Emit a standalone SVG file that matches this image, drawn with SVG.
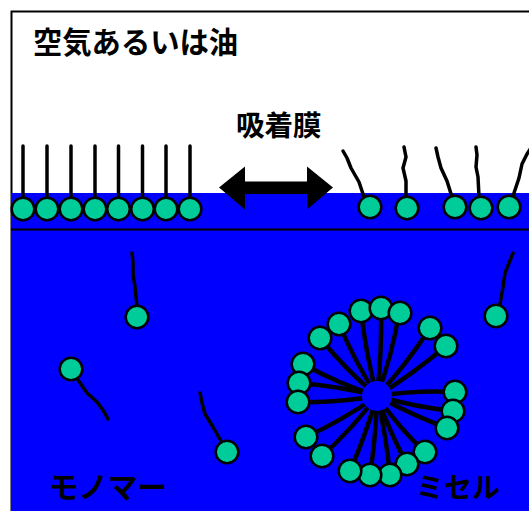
<svg xmlns="http://www.w3.org/2000/svg" width="529" height="511" viewBox="0 0 529 511">
  <style>
    .label { font-family: "Noto Sans CJK JP", "Noto Sans", sans-serif; font-weight: bold; fill: #000; }
    .tail { fill: none; stroke: #000; stroke-width: 3.5; stroke-linecap: round; stroke-linejoin: round; }
    .mtail { fill: none; stroke: #000; stroke-width: 4.5; stroke-linecap: round; stroke-linejoin: round; }
    .head { fill: #00CC99; stroke: #000; stroke-width: 2.5; }
  </style>
  <defs>
    <circle id="h" r="11.3" class="head"/>
  </defs>

  <!-- air / oil phase box -->
  <rect x="0" y="0" width="529" height="511" fill="#fff"/>
  <rect x="11.5" y="11.5" width="530" height="520" fill="#fff" stroke="#000" stroke-width="2"/>

  <!-- water phase -->
  <rect id="water" x="11" y="193" width="520" height="320" fill="#0000FF"/>
  <line x1="11" y1="229.5" x2="529" y2="229.5" stroke="#000" stroke-width="2"/>

  <text class="label" x="33" y="53" font-size="29.3">空気あるいは油</text>
  <text class="label" x="236" y="136" font-size="28.5">吸着膜</text>

  <!-- double-headed arrow -->
  <polygon points="219,187.5 245,166.5 245,181.5 307,181.5 307,166.5 333,187.5 307,209.5 307,194 245,194 245,209.5" fill="#000"/>

  <!-- packed adsorbed film (left) -->
  <g id="film-packed">
    <g class="tail">
      <line x1="23" y1="146" x2="23" y2="200"/>
      <line x1="47" y1="146" x2="47" y2="200"/>
      <line x1="71" y1="146" x2="71" y2="200"/>
      <line x1="95" y1="146" x2="95" y2="200"/>
      <line x1="118.5" y1="146" x2="118.5" y2="200"/>
      <line x1="142.5" y1="146" x2="142.5" y2="200"/>
      <line x1="166" y1="146" x2="166" y2="200"/>
      <line x1="190" y1="146" x2="190" y2="200"/>
    </g>
    <use href="#h" x="23" y="209"/>
    <use href="#h" x="47" y="209"/>
    <use href="#h" x="71" y="209"/>
    <use href="#h" x="95" y="209"/>
    <use href="#h" x="118.5" y="209"/>
    <use href="#h" x="142.5" y="209"/>
    <use href="#h" x="166" y="209"/>
    <use href="#h" x="190" y="209"/>
  </g>

  <!-- loose adsorbed film (right) -->
  <g id="film-loose">
    <g class="tail">
      <polyline points="364,197 359,182 351,168 347,158 343,151"/>
      <polyline points="406,197 406,181 403,168 406,157 404,147"/>
      <polyline points="452,197 447,181 441,168 438,157 436,148"/>
      <polyline points="479,197 478,177 476,167 477,155 476,147"/>
      <polyline points="513,196 519,178 522,164 527,154 531,148"/>
    </g>
    <use href="#h" x="370" y="207"/>
    <use href="#h" x="407" y="208"/>
    <use href="#h" x="455" y="207"/>
    <use href="#h" x="481" y="208"/>
    <use href="#h" x="509" y="207"/>
  </g>

  <!-- free monomers -->
  <g id="monomer-1">
    <polyline class="tail" points="137,306 135,287 133,274 133,263 132,253"/>
    <use href="#h" x="137" y="317"/>
  </g>
  <g id="monomer-2">
    <polyline class="tail" points="78,380 87,393 97,402 103,410 108,419"/>
    <use href="#h" x="71" y="369"/>
  </g>
  <g id="monomer-3">
    <polyline class="tail" points="221,441 213,427 205,414 202,403 200,393"/>
    <use href="#h" x="227" y="452"/>
  </g>
  <g id="monomer-4">
    <polyline class="tail" points="500,304 503,287 505,273 513,253"/>
    <use href="#h" x="496" y="316"/>
  </g>

  <!-- micelle -->
  <g id="micelle">
    <g class="mtail">
      <path d="M361,311 Q366,355 377,396"/>
      <path d="M381,308 Q382,352 377,396"/>
      <path d="M399,313 Q392,356 377,396"/>
      <path d="M339,324 Q355,362 377,396"/>
      <path d="M320,338 Q346,370 377,396"/>
      <path d="M430,328 Q407,364 377,396"/>
      <path d="M446,346 Q413,374 377,396"/>
      <path d="M303,364 Q339,384 377,396"/>
      <path d="M299,383 Q338,386 377,396"/>
      <path d="M298,402 Q337,403 377,396"/>
      <path d="M455,392 Q416,390 377,396"/>
      <path d="M453,411 Q415,407 377,396"/>
      <path d="M447,428 Q414,416 377,396"/>
      <path d="M306,437 Q343,420 377,396"/>
      <path d="M322,456 Q352,429 377,396"/>
      <path d="M425,452 Q398,427 377,396"/>
      <path d="M407,464 Q389,431 377,396"/>
      <path d="M350,471 Q366,434 377,396"/>
      <path d="M370,475 Q376,436 377,396"/>
      <path d="M390,475 Q386,435 377,396"/>
    </g>
    <circle cx="377" cy="396" r="15" fill="#0000FF"/>
    <use href="#h" x="361" y="311"/>
    <use href="#h" x="381" y="308"/>
    <use href="#h" x="400" y="313"/>
    <use href="#h" x="339" y="324"/>
    <use href="#h" x="320" y="338"/>
    <use href="#h" x="430" y="328"/>
    <use href="#h" x="446" y="346"/>
    <use href="#h" x="303" y="364"/>
    <use href="#h" x="299" y="383"/>
    <use href="#h" x="298" y="402"/>
    <use href="#h" x="455" y="392"/>
    <use href="#h" x="453" y="411"/>
    <use href="#h" x="447" y="428"/>
    <use href="#h" x="306" y="437"/>
    <use href="#h" x="322" y="456"/>
    <use href="#h" x="425" y="452"/>
    <use href="#h" x="407" y="464"/>
    <use href="#h" x="390" y="475"/>
    <use href="#h" x="370" y="475"/>
    <use href="#h" x="350" y="471"/>
  </g>

  <text class="label" x="49" y="498" font-size="29.5">モノマー</text>
  <text class="label" x="416" y="498" font-size="28">ミセル</text>
</svg>
